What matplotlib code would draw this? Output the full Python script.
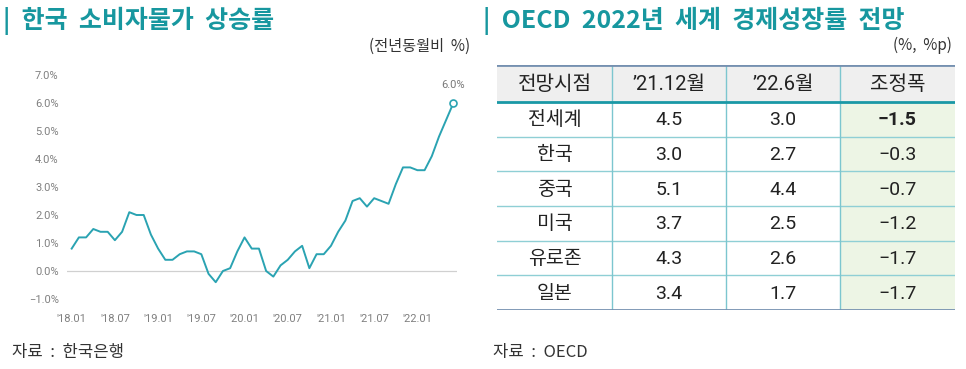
import matplotlib.pyplot as plt
from matplotlib.patches import Rectangle

plt.rcParams['font.family'] = ['Noto Sans CJK KR', 'DejaVu Sans']

# 소비자물가 상승률 (전년동월비, %) 2018.01 ~ 2022.06
cpi = [0.8, 1.2, 1.2, 1.5, 1.4, 1.4, 1.1, 1.4, 2.1, 2.0, 2.0, 1.3,
       0.8, 0.4, 0.4, 0.6, 0.7, 0.7, 0.6, -0.1, -0.4, 0.0, 0.1, 0.7,
       1.2, 0.8, 0.8, 0.0, -0.2, 0.2, 0.4, 0.7, 0.9, 0.1, 0.6, 0.6,
       0.9, 1.4, 1.8, 2.5, 2.6, 2.3, 2.6, 2.5, 2.4, 3.1, 3.7, 3.7,
       3.6, 3.6, 4.1, 4.8, 5.4, 6.0]
x_labels = ["'18.01", "'18.07", "'19.01", "'19.07", "'20.01",
            "'20.07", "'21.01", "'21.07", "'22.01"]
y_ticks = [-1, 0, 1, 2, 3, 4, 5, 6, 7]

# OECD 전망표
col_heads = ["전망시점", "’21.12월", "’22.6월", "조정폭"]
regions = ["전세계", "한국", "중국", "미국", "유로존", "일본"]
dec21 = ["4.5", "3.0", "5.1", "3.7", "4.3", "3.4"]
jun22 = ["3.0", "2.7", "4.4", "2.5", "2.6", "1.7"]
change = ["−1.5", "−0.3", "−0.7", "−1.2", "−1.7", "−1.7"]

W, H = 966, 369
teal = "#17979f"
line_c = "#2aa3b2"
tick_font = ['Roboto', 'DejaVu Sans']
fig = plt.figure(figsize=(W / 100, H / 100), dpi=100)


def fx(px):
    return px / W


def fy(py):
    return 1 - py / H


# ---- 왼쪽: 소비자물가 ----
fig.text(fx(3), fy(21), "|  한국  소비자물가  상승률", color=teal, fontsize=18,
         fontweight="bold", va="center", ha="left")
fig.text(fx(470), fy(46), "(전년동월비  %)", color="#333333", fontsize=11,
         va="center", ha="right")

ax = fig.add_axes([fx(67), fy(299), fx(457) - fx(67), fy(75) - fy(299)])
xs = list(range(len(cpi)))
ax.plot(xs, cpi, color=line_c, lw=1.4, clip_on=False)
ax.plot(xs[-1], cpi[-1], "o", ms=5, mfc="white", mec=line_c, mew=1.2,
        clip_on=False, zorder=5)
ax.annotate(f"{cpi[-1]:.1f}%", (xs[-1], cpi[-1]), xytext=(0, 9),
            textcoords="offset points", ha="center", va="bottom",
            fontsize=8, color="#777777", family=tick_font)
ax.axhline(0, color="#d0d0d0", lw=0.9, zorder=0)
ax.set_xlim(-0.65, 53.5)
ax.set_ylim(-1, 7)
ax.set_yticks(y_ticks)
ax.set_yticklabels([f"{v:.1f}%".replace("-", "−") for v in y_ticks],
                   family=tick_font)
ax.set_xticks(range(0, 54, 6))
ax.set_xticklabels(x_labels, family=tick_font)
ax.tick_params(length=0, labelsize=8, colors="#808080")
ax.tick_params(axis="y", pad=6)
ax.tick_params(axis="x", pad=11)
for s in ax.spines.values():
    s.set_visible(False)

fig.text(fx(12), fy(352), "자료  :  한국은행", color="#333333", fontsize=12,
         va="center", ha="left")

# ---- 오른쪽: OECD 전망표 ----
fig.text(fx(483), fy(21), "|  OECD  2022년  세계  경제성장률  전망", color=teal,
         fontsize=18, fontweight="bold", va="center", ha="left")
fig.text(fx(952), fy(45), "(%,  %p)", color="#333333", fontsize=11,
         va="center", ha="right")

tx0, tx1, ty0, ty1 = 497, 955, 65, 310
tab = fig.add_axes([fx(tx0), fy(ty1), fx(tx1) - fx(tx0), fy(ty0) - fy(ty1)])
tab.set_xlim(0, tx1 - tx0)
tab.set_ylim(ty1 - ty0, 0)
tab.axis("off")

col_x = [0, 115, 229, 343, tx1 - tx0]
head_h = 37
row_h = (ty1 - ty0 - head_h) / len(regions)

tab.add_patch(Rectangle((0, 0), col_x[-1], head_h, color="#efefef", lw=0))
tab.add_patch(Rectangle((col_x[3], head_h), col_x[4] - col_x[3],
                        row_h * len(regions), color="#edf5e5", lw=0))

for j, h in enumerate(col_heads):
    tab.text((col_x[j] + col_x[j + 1]) / 2, head_h / 2 + 1, h, ha="center",
             va="center", fontsize=14.5, color="#222222",
             family=['Roboto', 'Noto Sans CJK KR', 'DejaVu Sans'])

for i, name in enumerate(regions):
    yc = head_h + row_h * (i + 0.5) + 1
    cells = [name, dec21[i], jun22[i], change[i]]
    for j, c in enumerate(cells):
        tab.text((col_x[j] + col_x[j + 1]) / 2, yc, c, ha="center",
                 va="center", fontsize=14, color="#222222",
                 fontweight="bold" if (i == 0 and j == 3) else "normal",
                 family=['Roboto', 'Noto Sans CJK KR', 'DejaVu Sans'])

for i in range(1, len(regions)):
    yy = head_h + row_h * i
    tab.plot([0, col_x[-1]], [yy, yy], color="#8fcfd5", lw=1.0)
for xv in col_x[1:-1]:
    tab.plot([xv, xv], [0, ty1 - ty0], color="#7cc6cf", lw=1.0)
tab.plot([0, col_x[-1]], [head_h, head_h], color="#1a98a6", lw=2.0)
tab.plot([0, col_x[-1]], [0, 0], color="#7590b0", lw=2.0)
tab.plot([0, col_x[-1]], [ty1 - ty0, ty1 - ty0], color="#7590b0", lw=2.0)

fig.text(fx(493), fy(352), "자료  :  OECD", color="#333333", fontsize=12,
         va="center", ha="left")

fig.savefig("out.png", dpi=100)
